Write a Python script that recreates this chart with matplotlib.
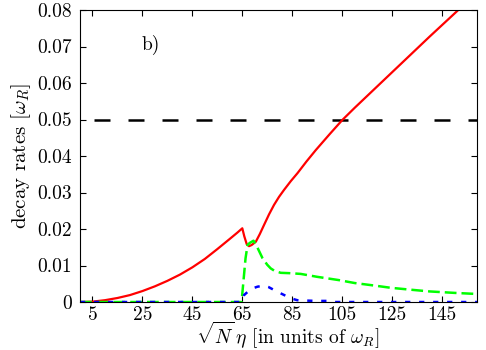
import matplotlib
matplotlib.use('Agg')
import matplotlib.pyplot as plt

plt.rcParams['font.family'] = 'serif'
plt.rcParams['font.serif'] = ['cmr10', 'DejaVu Serif']
plt.rcParams['mathtext.fontset'] = 'cm'
plt.rcParams['axes.unicode_minus'] = False

# red (solid) decay rate
red_x = [0, 5, 10, 15, 20, 25, 30, 35, 40, 45, 50, 55, 60, 63, 65, 65.8, 66.8, 67.7,
         68.7, 70.4, 72, 73.7, 75.7, 77.7, 79.7, 81.7, 84.4, 87.1, 90.7, 94.4, 100,
         105.1, 110, 120, 130, 140, 151.5, 159]
red_y = [0, 0.0001, 0.0005, 0.0011, 0.0019, 0.0030, 0.0043, 0.0058, 0.0075, 0.0095,
         0.0118, 0.0145, 0.0173, 0.0190, 0.0202, 0.0180, 0.0158, 0.0153, 0.0156, 0.0165,
         0.0186, 0.0211, 0.0240, 0.0266, 0.0288, 0.0307, 0.0331, 0.0353, 0.0385, 0.0416,
         0.0460, 0.0499, 0.0532, 0.0597, 0.0662, 0.0727, 0.0800, 0.0848]

# green (long dashes)
green_x = [0, 64.7, 65.5, 66.3, 67.1, 68, 69.5, 71, 73.1, 75, 76.4, 78, 80.4, 84, 88.4,
           95, 103.7, 110, 118, 124.4, 132, 140, 150, 159]
green_y = [0, 0, 0.006, 0.012, 0.0156, 0.0162, 0.0168, 0.0150, 0.0120, 0.0102, 0.0092,
           0.0085, 0.0080, 0.0079, 0.0077, 0.0069, 0.0060, 0.0052, 0.0045, 0.0039, 0.0034,
           0.0029, 0.0025, 0.0022]

# blue (short dashes)
blue_x = [0, 64.7, 65.7, 67.5, 69, 71.1, 73.7, 75.5, 77.7, 80, 83, 85, 87, 90, 95, 100,
          102, 159]
blue_y = [0, 0, 0.0019, 0.0030, 0.0037, 0.0042, 0.0045, 0.0041, 0.0033, 0.0025, 0.0015,
          0.0009, 0.0005, 0.0004, 0.0003, 0.0003, 0.0, 0.0]

threshold = 0.05

xticks = [5, 25, 45, 65, 85, 105, 125, 145]
yticks = [0, 0.01, 0.02, 0.03, 0.04, 0.05, 0.06, 0.07, 0.08]
ytick_labels = ['0', '0.01', '0.02', '0.03', '0.04', '0.05', '0.06', '0.07', '0.08']

fig = plt.figure(figsize=(4.86, 3.5), dpi=100)
ax = fig.add_axes([0.1646, 0.1371, 0.8169, 0.8343])

ax.plot([0, 159], [threshold, threshold], color='black', lw=1.8,
        linestyle=(8, (6.4, 7.2)))
ax.plot(red_x, red_y, color='#ff0000', lw=1.6)
ax.plot(green_x, green_y, color='#00ff00', lw=1.8, dashes=(4.7, 2.0))
ax.plot(blue_x, blue_y, color='#0000ff', lw=1.8, dashes=(2.1, 3.5))

ax.set_xlim(0, 159)
ax.set_ylim(0, 0.08)
ax.set_xticks(xticks)
ax.set_yticks(yticks)
ax.set_yticklabels(ytick_labels)
ax.tick_params(direction='in', top=True, right=True, length=4, labelsize=14)
ax.tick_params(axis='x', pad=3)
ax.tick_params(axis='y', pad=6)

# x label placed by baseline so the tall brackets stay inside the figure
fig.text(0.5926, 0.020, r'$\sqrt{N}\,\eta$ [in units of $\omega_R$]', fontsize=14,
         ha='center', va='baseline')
ax.set_ylabel(r'decay rates [$\omega_R$]', fontsize=15, labelpad=3)
ax.text(28.4, 0.0704, 'b)', fontsize=14, ha='center', va='center')

fig.savefig('out.png', dpi=100)
